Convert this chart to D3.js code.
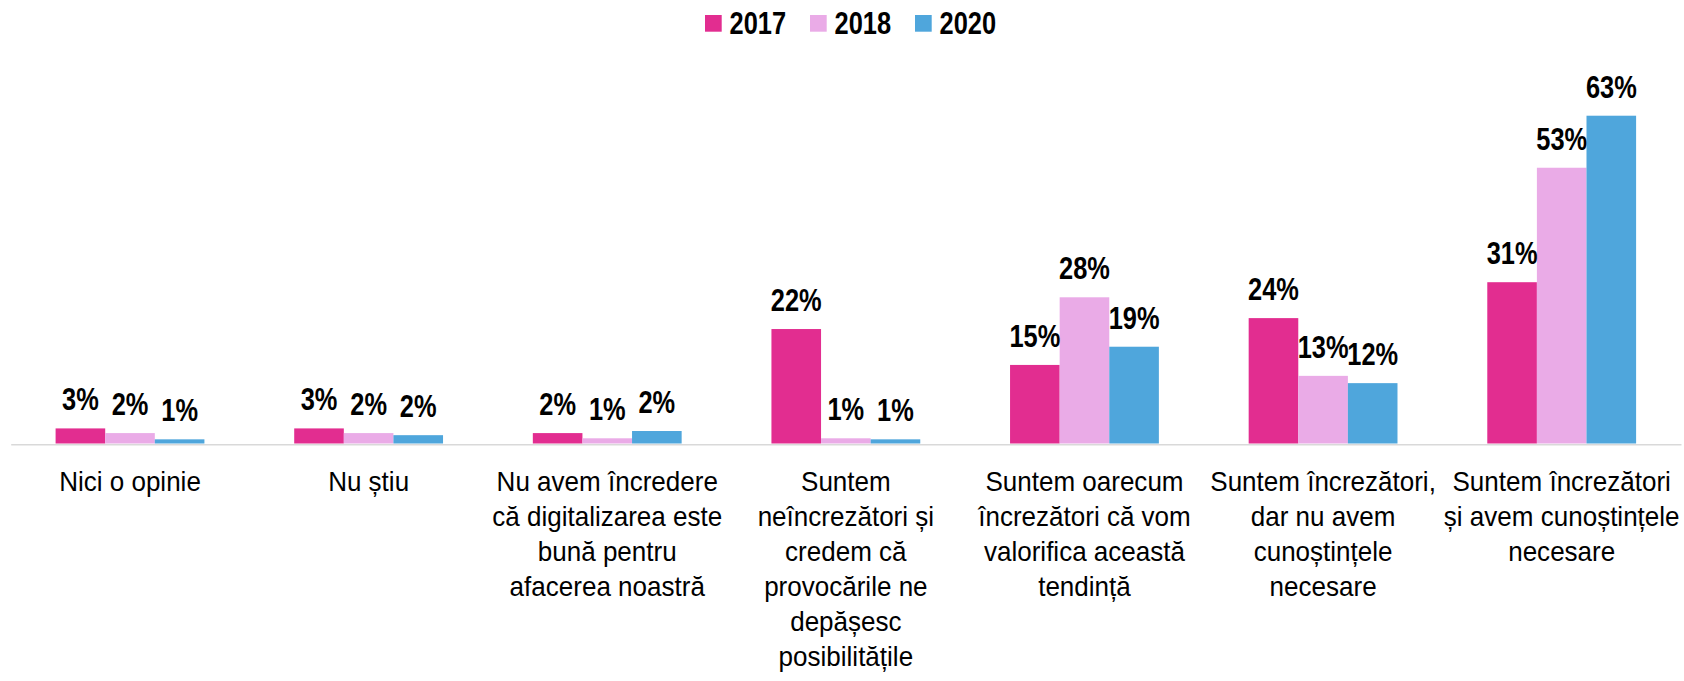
<!DOCTYPE html>
<html>
<head>
<meta charset="utf-8">
<script src="https://cdn.jsdelivr.net/npm/d3@7/dist/d3.min.js"></script>
<style>
  html, body { margin: 0; padding: 0; background: #fff; }
  svg { display: block; }
</style>
</head>
<body>
<svg id="chart" width="1684" height="681"></svg>
<script>
// ---- data ----
const categories = [
  "Nici o opinie",
  "Nu știu",
  "Nu avem încredere că digitalizarea este bună pentru afacerea noastră",
  "Suntem neîncrezători și credem că provocările ne depășesc posibilitățile",
  "Suntem oarecum încrezători că vom valorifica această tendință",
  "Suntem încrezători, dar nu avem cunoștințele necesare",
  "Suntem încrezători și avem cunoștințele necesare"
];
const categoryLines = [
  ["Nici o opinie"],
  ["Nu știu"],
  ["Nu avem încredere", "că digitalizarea este", "bună pentru", "afacerea noastră"],
  ["Suntem", "neîncrezători și", "credem că", "provocările ne", "depășesc", "posibilitățile"],
  ["Suntem oarecum", "încrezători că vom", "valorifica această", "tendință"],
  ["Suntem încrezători,", "dar nu avem", "cunoștințele", "necesare"],
  ["Suntem încrezători", "și avem cunoștințele", "necesare"]
];
const years = ["2017", "2018", "2020"];
const values2017 = [2.9, 2.9, 2.0, 22.0, 15.1, 24.1, 31.0];
const values2018 = [2.0, 2.0, 1.0, 1.0, 28.1, 13.0, 53.0];
const values2020 = [0.8, 1.6, 2.4, 0.8, 18.6, 11.6, 63.0];
const colors = ["#E22D90", "#EAABE7", "#4FA6DC"];

const seriesValues = [values2017, values2018, values2020];

// ---- layout ----
const svg = d3.select("#chart");
const x0 = 10.7, x1 = 1681;
const yBase = 443.5;
const pxPerUnit = 5.203;

const x = d3.scaleBand().domain(categories).range([x0, x1]).paddingInner(0).paddingOuter(0);
const xs = d3.scaleBand().domain(years).range([0, x.bandwidth()]).paddingInner(0).paddingOuter(0.905);
const y = d3.scaleLinear().domain([0, 70]).range([yBase, yBase - 70 * pxPerUnit]);

const narrow = 0.82;
const fmt = v => Math.round(v) + "%";

// bars
const groups = svg.append("g").selectAll("g")
  .data(categories)
  .join("g")
  .attr("transform", d => `translate(${x(d)},0)`);

groups.each(function(cat, ci) {
  const g = d3.select(this);
  years.forEach((yr, si) => {
    const v = seriesValues[si][ci];
    g.append("rect")
      .attr("x", xs(yr))
      .attr("y", y(v))
      .attr("width", xs.bandwidth())
      .attr("height", yBase - y(v))
      .attr("fill", colors[si]);
  });
});

// axis
const axis = svg.append("g")
  .attr("transform", `translate(0,${yBase + 0.7})`)
  .call(d3.axisBottom(x).tickSize(0).tickFormat(""));
axis.select(".domain").attr("stroke", "#d9d9d9").attr("stroke-width", 1.6);

// category labels via axis ticks
axis.selectAll(".tick text").remove();
axis.selectAll(".tick").each(function(d, i) {
  const t = d3.select(this).append("text")
    .attr("text-anchor", "middle")
    .attr("transform", "scale(0.93,1)")
    .attr("fill", "#000")
    .style("font-family", "'Liberation Sans', Arial, sans-serif")
    .style("font-size", "28px");
  categoryLines[i].forEach((line, li) => {
    t.append("tspan")
      .attr("x", 0)
      .attr("y", 47 + li * 35)
      .text(line);
  });
});

// value labels
groups.each(function(cat, ci) {
  const g = d3.select(this);
  years.forEach((yr, si) => {
    const v = seriesValues[si][ci];
    const cx = xs(yr) + xs.bandwidth() / 2;
    g.append("text")
      .attr("transform", `translate(${cx},${y(v) - 18}) scale(${narrow},1)`)
      .attr("text-anchor", "middle")
      .attr("fill", "#000")
      .style("font-family", "'Liberation Sans', Arial, sans-serif")
      .style("font-weight", "bold")
      .style("font-size", "31px")
      .text(fmt(v));
  });
});

// legend
const legendStarts = [705, 810, 915];
const legend = svg.append("g");
years.forEach((yr, si) => {
  const lx = legendStarts[si];
  legend.append("rect")
    .attr("x", lx).attr("y", 15)
    .attr("width", 16.7).attr("height", 16.7)
    .attr("fill", colors[si]);
  legend.append("text")
    .attr("transform", `translate(${lx + 24.5},34) scale(${narrow},1)`)
    .attr("fill", "#000")
    .style("font-family", "'Liberation Sans', Arial, sans-serif")
    .style("font-weight", "bold")
    .style("font-size", "31px")
    .text(yr);
});
</script>
</body>
</html>
